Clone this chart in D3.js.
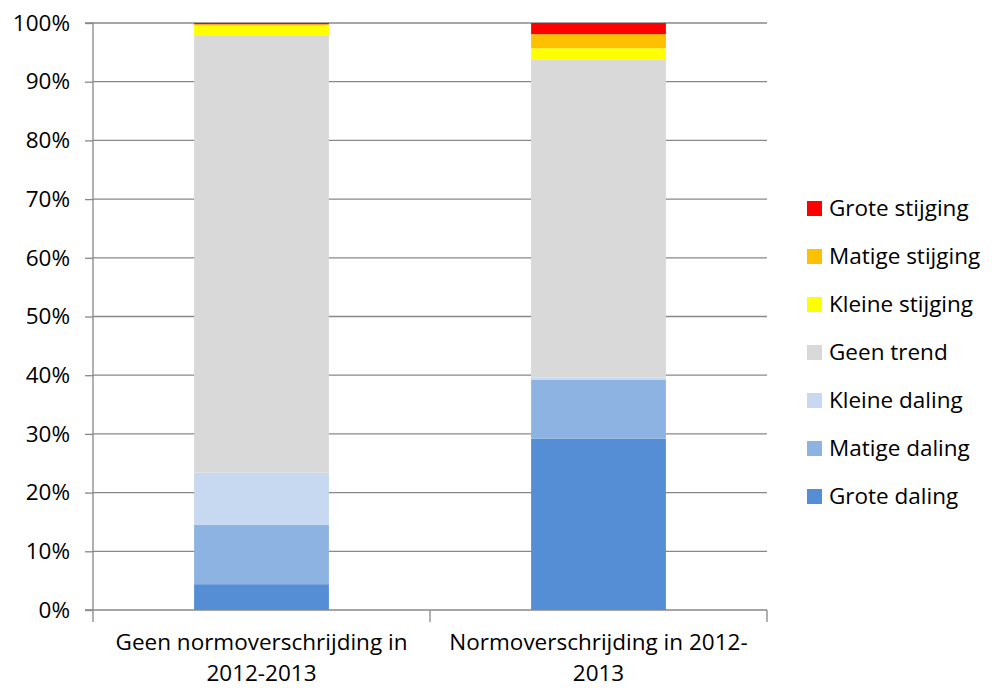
<!DOCTYPE html>
<html><head><meta charset="utf-8">
<script src="https://cdn.jsdelivr.net/npm/d3@7"></script>
<style>body{margin:0;background:#fff}svg{display:block}text{font-family:"Open Sans",sans-serif;fill:#000}</style>
</head><body><svg id="c" width="992" height="688"></svg>
<script>
const categories = [["Geen normoverschrijding in", "2012-2013"], ["Normoverschrijding in 2012-", "2013"]];
const seriesNames = ["Grote daling", "Matige daling", "Kleine daling", "Geen trend", "Kleine stijging", "Matige stijging", "Grote stijging"];
const seriesColors = ["#558ED5", "#8DB3E2", "#C6D9F1", "#D9D9D9", "#FFFF00", "#FFC000", "#FF0000"];
const grote_daling = [4.4, 29.2];
const matige_daling = [10.1, 10.0];
const kleine_daling = [8.9, 0.4];
const geen_trend = [74.5, 54.2];
const kleine_stijging = [1.7, 1.9];
const matige_stijging = [0.2, 2.4];
const grote_stijging = [0.2, 1.9];
const yTicks = [0, 10, 20, 30, 40, 50, 60, 70, 80, 90, 100];

const values = [grote_daling, matige_daling, kleine_daling, geen_trend, kleine_stijging, matige_stijging, grote_stijging];
const FS = "22.5px";
const svg = d3.select("#c");
const L = 93, R = 767, T = 23, B = 610;
const x = d3.scaleBand().domain([0, 1]).range([L, R]).paddingInner(0.6).paddingOuter(0.3);
const y = d3.scaleLinear().domain([0, 100]).range([B, T]);

svg.append("g").selectAll("line").data(yTicks.slice(1)).join("line")
  .attr("x1", L).attr("x2", R).attr("y1", d => y(d)).attr("y2", d => y(d))
  .attr("stroke", "#888").attr("stroke-width", 1.3);

const rows = [0, 1].map(i => { const o = {i}; seriesNames.forEach((s, k) => o[s] = values[k][i]); return o; });
const stack = d3.stack().keys(seriesNames)(rows);
svg.append("g").selectAll("g").data(stack).join("g")
  .attr("fill", (d, k) => seriesColors[k])
  .selectAll("rect").data(d => d).join("rect")
  .attr("x", d => x(d.data.i)).attr("width", x.bandwidth())
  .attr("y", d => y(d[1])).attr("height", d => y(d[0]) - y(d[1]));

const yAxis = d3.axisLeft(y).tickValues(yTicks).tickFormat(d => d + "%").tickSize(8).tickPadding(15);
const gy = svg.append("g").attr("transform", `translate(${L},0)`).call(yAxis);
gy.select(".domain").attr("stroke", "#888").attr("stroke-width", 1.3).attr("d", `M-8,${T}H0V${B}H-8`);
gy.selectAll(".tick line").attr("stroke", "#888").attr("stroke-width", 1.3);
gy.selectAll(".tick text").style("font-size", FS).style("font-family", "'Open Sans', sans-serif").attr("fill", "#000");

const gx = svg.append("g").attr("transform", `translate(0,${B})`);
gx.append("line").attr("x1", L).attr("x2", R).attr("stroke", "#888").attr("stroke-width", 1.3);
const bounds = [L, (x(0) + x.bandwidth() + x(1)) / 2, R];
gx.selectAll(".tk").data(bounds).join("line").attr("class", "tk")
  .attr("x1", d => d).attr("x2", d => d).attr("y1", 0).attr("y2", 12)
  .attr("stroke", "#888").attr("stroke-width", 1.3);
categories.forEach((lines, i) => {
  const cx = x(i) + x.bandwidth() / 2;
  lines.forEach((ln, j) => gx.append("text").attr("text-anchor", "middle").style("font-size", FS)
    .attr("x", cx).attr("y", 40 + j * 31).text(ln));
});

const leg = svg.append("g");
const order = seriesNames.map((s, k) => k).reverse();
order.forEach((k, r) => {
  const yy = 208 + r * 48;
  leg.append("rect").attr("x", 807).attr("y", yy - 7).attr("width", 15).attr("height", 15).attr("fill", seriesColors[k]);
  leg.append("text").attr("x", 829).attr("y", yy + 8).style("font-size", FS).text(seriesNames[k]);
});
</script></body></html>
